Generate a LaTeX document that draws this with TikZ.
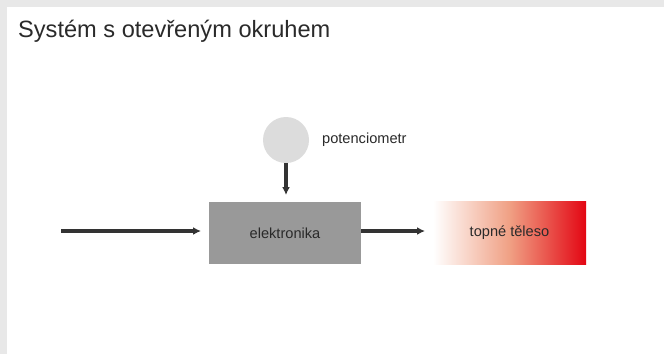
\documentclass[tikz,border=0pt]{standalone}
\usepackage{fontspec}
\setmainfont{Liberation Sans}
\usetikzlibrary{arrows.meta}
\definecolor{framegray}{HTML}{E8E8E8}
\definecolor{boxgray}{HTML}{999999}
\definecolor{circgray}{HTML}{DCDCDC}
\definecolor{arrowgray}{HTML}{333333}
\definecolor{hotred}{HTML}{E30613}
\definecolor{midsalmon}{HTML}{F0A084}
\definecolor{txt}{HTML}{2A2A2A}
\tikzset{
  conn/.style={draw=arrowgray, line width=3.2pt, -{Latex[length=8pt,width=8pt]}},
  lbl/.style={text=txt, font=\fontsize{14.6}{17}\selectfont, inner sep=0pt},
}
\begin{document}
\begin{tikzpicture}[x=1pt,y=-1pt]
\useasboundingbox (0,0) rectangle (664,354);
\fill[framegray] (0,0) rectangle (664,354);
\fill[white] (7,7) rectangle (664,354);
\node[anchor=base west, inner sep=0pt, text=txt, font=\fontsize{23.6}{27}\selectfont] (title) at (18,37) {Systém s otevřeným okruhem};
\node[circle, fill=circgray, minimum size=46pt, inner sep=0pt] (pot) at (286,140) {};
\node[lbl, anchor=west] (potl) at (322,140) {potenciometr};
\node[fill=boxgray, minimum width=152pt, minimum height=62pt, inner sep=0pt, lbl] (el) at (285,233) {elektronika};
\node[left color=white, right color=hotred, middle color=midsalmon, minimum width=153pt, minimum height=63pt, inner sep=0pt, lbl] (tel) at (509.5,232.5) {topné těleso};
\coordinate (in) at (61,231);
\coordinate (inend) at (201,231);
\coordinate (pd) at (286,195);
\coordinate (outend) at (425,231);
\draw[conn] (in) -- (inend);
\draw[conn] (pot.south -| pd) -- (pd);
\draw[conn] (el.east |- outend) -- (outend);
\end{tikzpicture}
\end{document}
